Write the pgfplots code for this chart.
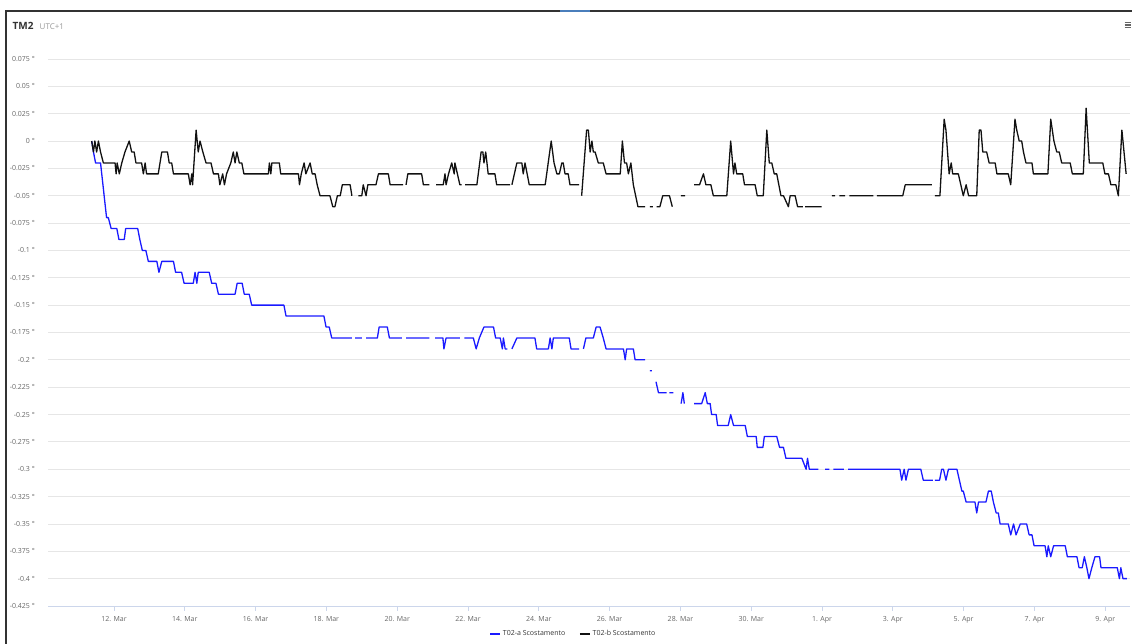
\documentclass[border=0pt]{standalone}
\usepackage{pgfplots}
\pgfplotsset{compat=1.18}
\usepackage{pgfplotstable}
\usepackage{fontspec}
\setmainfont{Open Sans}
\definecolor{seriesA}{HTML}{1A1AFF}
\definecolor{seriesB}{HTML}{111111}
\definecolor{gridcol}{HTML}{E6E6E6}
\definecolor{tickcol}{HTML}{CCD6EB}
\definecolor{labcol}{HTML}{666666}
\definecolor{titlecol}{HTML}{333333}
\definecolor{subcol}{HTML}{999999}
\definecolor{bordercol}{HTML}{333333}
\definecolor{tabblue}{HTML}{4A7EBB}

\pgfplotstableread{
d v
11.37 0
11.42 -0.01
11.48 -0.02
11.62 -0.02
11.79 -0.07
11.84 -0.07
11.92 -0.08
12.08 -0.08
12.14 -0.09
12.29 -0.09
12.33 -0.08
12.67 -0.08
12.73 -0.09
12.80 -0.10
12.90 -0.10
12.97 -0.11
13.21 -0.11
13.27 -0.12
13.35 -0.11
13.68 -0.11
13.74 -0.12
13.91 -0.12
13.98 -0.13
14.24 -0.13
14.29 -0.12
14.34 -0.13
14.38 -0.12
14.69 -0.12
14.76 -0.13
14.88 -0.13
14.95 -0.14
15.42 -0.14
15.48 -0.13
15.62 -0.13
15.68 -0.14
15.82 -0.14
15.89 -0.15
16.80 -0.15
16.86 -0.16
17.93 -0.16
17.99 -0.17
18.08 -0.17
18.15 -0.18
18.72 -0.18
18.76 nan
18.81 -0.18
19.00 -0.18
19.06 nan
19.12 -0.18
19.44 -0.18
19.49 -0.17
19.72 -0.17
19.78 -0.18
20.13 -0.18
20.19 nan
20.25 -0.18
20.91 -0.18
21.00 nan
21.07 -0.18
21.29 -0.18
21.32 -0.19
21.38 -0.18
21.77 -0.18
21.84 nan
21.90 -0.18
22.15 -0.18
22.23 -0.19
22.32 -0.18
22.45 -0.17
22.72 -0.17
22.78 -0.18
22.91 -0.18
22.97 -0.19
23.00 -0.18
23.05 -0.19
23.11 -0.19
23.18 nan
23.24 -0.19
23.38 -0.18
23.89 -0.18
23.94 -0.19
24.18 -0.19
24.27 -0.19
24.32 -0.18
24.37 -0.19
24.41 -0.18
24.86 -0.18
24.91 -0.19
25.14 -0.19
25.20 nan
25.26 -0.19
25.33 -0.18
25.54 -0.18
25.62 -0.17
25.73 -0.17
25.82 -0.18
25.90 -0.19
26.39 -0.19
26.44 -0.20
26.48 -0.19
26.67 -0.19
26.72 -0.20
27.00 -0.20
27.07 nan
27.14 -0.21
27.19 -0.21
27.25 nan
27.31 -0.22
27.38 -0.23
27.61 -0.23
27.65 nan
27.69 -0.23
27.80 -0.23
27.90 nan
28.02 -0.24
28.07 -0.23
28.11 -0.24
28.25 nan
28.39 -0.24
28.60 -0.24
28.70 -0.23
28.76 -0.24
28.84 -0.24
28.88 -0.25
29.01 -0.25
29.05 -0.26
29.35 -0.26
29.42 -0.25
29.50 -0.26
29.83 -0.26
29.89 -0.27
30.14 -0.27
30.17 -0.28
30.33 -0.28
30.37 -0.27
30.72 -0.27
30.80 -0.28
30.91 -0.28
30.98 -0.29
31.43 -0.29
31.55 -0.30
31.59 -0.29
31.64 -0.30
31.90 -0.30
32.00 nan
32.09 -0.30
32.21 -0.30
32.27 nan
32.32 -0.30
32.62 -0.30
32.68 nan
32.74 -0.30
34.20 -0.30
34.25 -0.31
34.32 -0.30
34.37 -0.31
34.44 -0.30
34.79 -0.30
34.86 -0.31
35.13 -0.31
35.16 nan
35.19 -0.31
35.32 -0.31
35.38 -0.30
35.43 -0.30
35.50 -0.31
35.57 -0.30
35.81 -0.30
35.88 -0.31
35.95 -0.32
35.99 -0.32
36.07 -0.33
36.32 -0.33
36.37 -0.34
36.42 -0.33
36.63 -0.33
36.70 -0.32
36.78 -0.32
36.84 -0.33
36.92 -0.34
36.98 -0.34
37.03 -0.35
37.26 -0.35
37.33 -0.36
37.41 -0.35
37.48 -0.36
37.60 -0.35
37.78 -0.35
37.85 -0.36
37.93 -0.36
37.99 -0.37
38.30 -0.37
38.35 -0.38
38.39 -0.37
38.46 -0.38
38.54 -0.37
38.87 -0.37
38.93 -0.38
39.20 -0.38
39.26 -0.39
39.35 -0.39
39.41 -0.38
39.48 -0.39
39.54 -0.40
39.62 -0.39
39.71 -0.38
39.84 -0.38
39.88 -0.39
40.34 -0.39
40.40 -0.40
40.44 -0.39
40.50 -0.40
40.61 -0.40
}\tableA

\pgfplotstableread{
d v
11.37 0
11.42 -0.01
11.46 0
11.51 -0.01
11.56 0
11.62 -0.01
11.70 -0.02
12.03 -0.02
12.06 -0.03
12.09 -0.02
12.15 -0.03
12.22 -0.02
12.31 -0.01
12.43 0
12.50 -0.01
12.57 -0.01
12.62 -0.02
12.78 -0.02
12.83 -0.03
12.88 -0.02
12.92 -0.03
13.25 -0.03
13.35 -0.01
13.51 -0.01
13.56 -0.02
13.63 -0.02
13.68 -0.03
14.10 -0.03
14.15 -0.04
14.20 -0.03
14.22 -0.04
14.32 0.01
14.38 -0.01
14.43 0
14.51 -0.01
14.60 -0.02
14.74 -0.02
14.81 -0.03
14.95 -0.03
14.99 -0.04
15.07 -0.03
15.12 -0.04
15.18 -0.03
15.30 -0.02
15.37 -0.01
15.42 -0.02
15.47 -0.01
15.54 -0.02
15.61 -0.02
15.67 -0.03
16.36 -0.03
16.39 -0.02
16.43 -0.03
16.46 -0.02
16.67 -0.02
16.71 -0.03
17.21 -0.03
17.24 -0.04
17.29 -0.03
17.37 -0.02
17.42 -0.03
17.54 -0.02
17.60 -0.03
17.68 -0.03
17.74 -0.04
17.82 -0.05
18.10 -0.05
18.18 -0.06
18.24 -0.06
18.31 -0.05
18.39 -0.05
18.45 -0.04
18.67 -0.04
18.72 -0.05
18.80 nan
18.90 -0.05
19.00 -0.05
19.04 -0.04
19.12 -0.05
19.17 -0.04
19.40 -0.04
19.47 -0.03
19.75 -0.03
19.80 -0.04
20.17 -0.04
20.21 nan
20.25 -0.04
20.30 -0.03
20.69 -0.03
20.74 -0.04
20.91 -0.04
21.00 nan
21.10 -0.04
21.30 -0.04
21.35 -0.03
21.38 -0.04
21.45 -0.03
21.54 -0.02
21.61 -0.03
21.63 -0.02
21.70 -0.03
21.77 -0.04
21.82 -0.04
21.87 nan
21.92 -0.04
22.25 -0.04
22.37 -0.01
22.42 -0.01
22.45 -0.02
22.50 -0.01
22.57 -0.03
22.76 -0.03
22.81 -0.04
23.19 -0.04
23.21 nan
23.24 -0.04
23.38 -0.02
23.52 -0.02
23.56 -0.03
23.61 -0.02
23.73 -0.04
24.18 -0.04
24.35 0
24.43 -0.02
24.51 -0.03
24.58 -0.03
24.65 -0.02
24.69 -0.02
24.74 -0.03
24.83 -0.03
24.88 -0.04
25.14 -0.04
25.18 nan
25.21 -0.05
25.35 0.01
25.40 0.01
25.45 -0.01
25.50 0
25.54 -0.01
25.59 -0.01
25.68 -0.02
25.82 -0.02
25.90 -0.03
26.30 -0.03
26.36 0
26.42 -0.02
26.48 -0.02
26.53 -0.03
26.60 -0.02
26.67 -0.04
26.80 -0.06
27.00 -0.06
27.07 nan
27.14 -0.06
27.22 -0.06
27.28 nan
27.33 -0.06
27.42 -0.06
27.50 -0.05
27.69 -0.05
27.77 -0.06
27.90 nan
28.01 -0.05
28.13 -0.05
28.25 nan
28.39 -0.04
28.54 -0.04
28.65 -0.03
28.72 -0.04
28.86 -0.04
28.93 -0.05
29.31 -0.05
29.42 0
29.50 -0.03
29.54 -0.02
29.59 -0.03
29.76 -0.03
29.81 -0.04
30.11 -0.04
30.17 -0.05
30.34 -0.05
30.44 0.01
30.51 -0.02
30.58 -0.02
30.65 -0.03
30.72 -0.03
30.84 -0.05
30.91 -0.05
31.05 -0.06
31.10 -0.05
31.24 -0.05
31.31 -0.06
31.46 -0.06
31.49 nan
31.52 -0.06
31.99 -0.06
32.10 nan
32.28 -0.05
32.37 -0.05
32.43 nan
32.49 -0.05
32.65 -0.05
32.71 nan
32.77 -0.05
33.45 -0.05
33.50 nan
33.55 -0.05
34.28 -0.05
34.35 -0.04
35.10 -0.04
35.15 nan
35.19 -0.05
35.33 -0.05
35.45 0.02
35.50 0.01
35.59 -0.03
35.65 -0.02
35.69 -0.03
35.85 -0.03
35.92 -0.04
35.99 -0.05
36.07 -0.04
36.14 -0.05
36.37 -0.05
36.44 0.01
36.49 0.01
36.54 -0.01
36.65 -0.01
36.72 -0.02
36.89 -0.02
36.94 -0.03
37.26 -0.03
37.33 -0.04
37.45 0.02
37.50 0.01
37.57 0
37.64 0
37.69 -0.01
37.76 -0.02
37.93 -0.02
37.97 -0.03
38.38 -0.03
38.46 0.02
38.55 0
38.63 -0.01
38.70 -0.01
38.77 -0.02
39.01 -0.02
39.07 -0.03
39.38 -0.03
39.46 0.03
39.55 -0.02
39.93 -0.02
39.99 -0.03
40.09 -0.03
40.16 -0.04
40.30 -0.04
40.37 -0.05
40.47 0.01
40.59 -0.03
}\tableB

\begin{document}
\begin{tikzpicture}[x=1pt,y=1pt]
\path[use as bounding box] (0pt,0pt) rectangle (1132pt,644pt);
\draw[bordercol, line width=1.2pt] (6pt,0pt) -- (6pt,633pt) -- (1132pt,633pt);
\draw[tabblue, line width=1.4pt] (560pt,633pt) -- (590pt,633pt);
\node[anchor=base west, inner sep=0pt, font=\fontsize{10}{12}\selectfont\bfseries, text=titlecol] at (12.5pt,614.5pt) {TM2};
\node[anchor=base west, inner sep=0pt, font=\fontsize{8}{10}\selectfont, text=subcol] at (39.5pt,614.5pt) {UTC+1};
\foreach \yy in {621.5,619,616.5} {\draw[labcol, line width=1.2pt] (1124.5pt,\yy pt) -- (1130.5pt,\yy pt);}
\begin{axis}[
  at={(48pt,38pt)}, anchor=south west,
  scale only axis, width=1082pt, height=547pt,
  xmin=10.136, xmax=40.70, ymin=-0.425, ymax=0.075,
  axis line style={draw=none},
  xtick={12,14,16,18,20,22,24,26,28,30,32,34,36,38,40},
  xticklabels={12. Mar,14. Mar,16. Mar,18. Mar,20. Mar,22. Mar,24. Mar,26. Mar,28. Mar,30. Mar,1. Apr,3. Apr,5. Apr,7. Apr,9. Apr},
  ytick={-0.425,-0.4,-0.375,-0.35,-0.325,-0.3,-0.275,-0.25,-0.225,-0.2,-0.175,-0.15,-0.125,-0.1,-0.075,-0.05,-0.025,0,0.025,0.05,0.075},
  yticklabels={-0.425 °,-0.4 °,-0.375 °,-0.35 °,-0.325 °,-0.3 °,-0.275 °,-0.25 °,-0.225 °,-0.2 °,-0.175 °,-0.15 °,-0.125 °,-0.1 °,-0.075 °,-0.05 °,-0.025 °,0 °,0.025 °,0.05 °,0.075 °},
  xtick pos=bottom, tick align=outside, major tick length=5pt,
  xtick style={draw=tickcol, line width=0.8pt},
  ytick style={draw=none},
  ymajorgrids, grid style={draw=gridcol, line width=0.8pt},
  xticklabel style={anchor=north, inner sep=0pt, yshift=-5.5pt, font=\fontsize{7}{8}\selectfont, text=labcol},
  yticklabel style={anchor=east, inner sep=0pt, xshift=-8pt, font=\fontsize{7}{8}\selectfont, text=labcol},
  /pgf/number format/assume math mode=true,
  unbounded coords=jump,
  legend style={at={(0.4857,-0.0512)}, anchor=center, draw=none, fill=none,
    font=\fontsize{7}{8}\selectfont, text=titlecol,
    /tikz/every even column/.append style={column sep=12pt}},
  legend columns=2,
  legend image code/.code={\draw[#1] (0pt,0pt) -- (10pt,0pt);},
  after end axis/.code={\draw[tickcol, line width=0.8pt] (rel axis cs:0,0) -- (rel axis cs:1,0);},
]
\addplot[seriesA, line width=1.3pt, line join=round] table[x=d, y=v] {\tableA};
\addlegendentry{T02-a Scostamento}
\addplot[seriesB, line width=1.3pt, line join=round] table[x=d, y=v] {\tableB};
\addlegendentry{T02-b Scostamento}
\end{axis}
\end{tikzpicture}
\end{document}
